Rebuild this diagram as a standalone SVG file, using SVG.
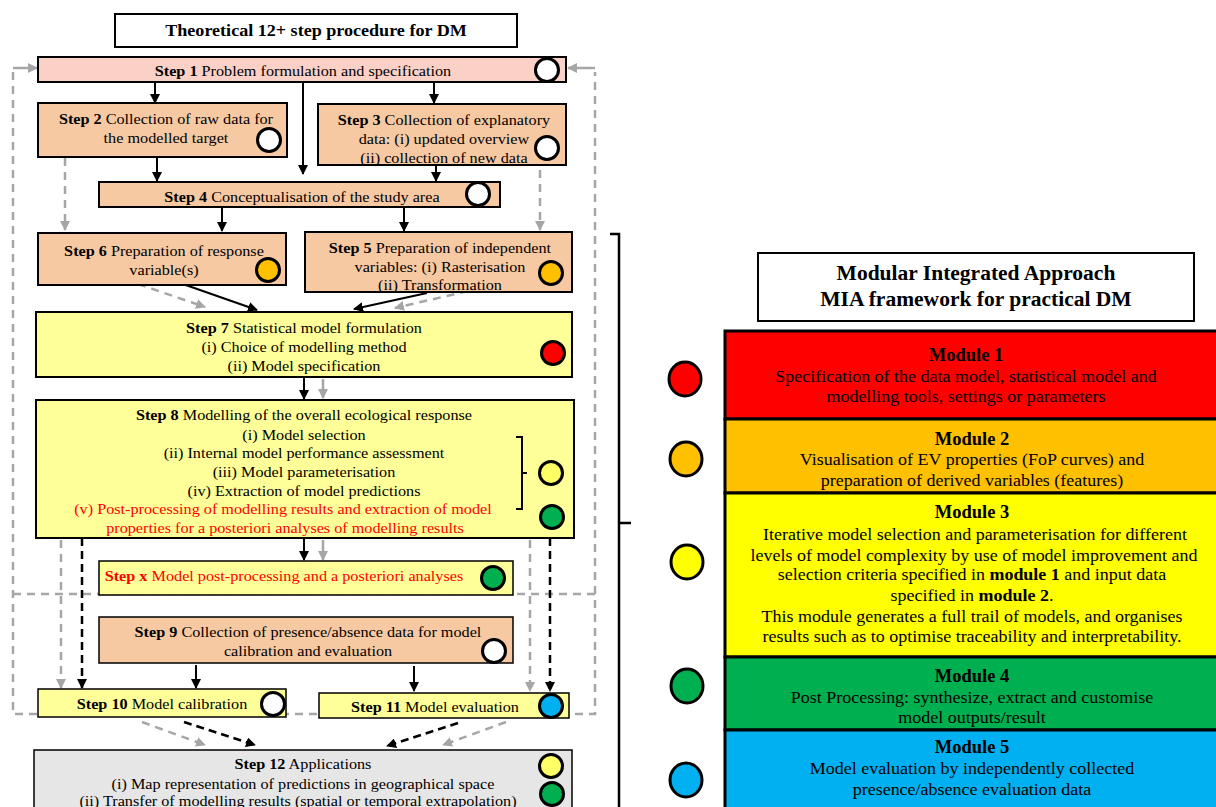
<svg xmlns="http://www.w3.org/2000/svg" width="1216" height="807" viewBox="0 0 1216 807">
<defs>
<marker id="ab" markerWidth="10" markerHeight="10" refX="9" refY="5" orient="auto" markerUnits="userSpaceOnUse"><path d="M0,0 L10,5 L0,10 z" fill="#000"/></marker>
<marker id="ag" markerWidth="10" markerHeight="10" refX="9" refY="5" orient="auto" markerUnits="userSpaceOnUse"><path d="M0,0 L10,5 L0,10 z" fill="#a6a6a6"/></marker>
<style>
text{font-family:"Liberation Serif","Times New Roman",serif;fill:#000;transform-box:fill-box;transform-origin:center}
.s{font-size:15px;text-anchor:middle;transform:scaleX(1.08)}
.b{font-weight:bold}
.r{fill:#ff0000}
.box{stroke:#000;stroke-width:2}
.thin{stroke:#000;stroke-width:1.5}
.c{stroke:#000;stroke-width:3}
.bl{stroke:#000;stroke-width:2;fill:none;marker-end:url(#ab)}
.bd{stroke:#000;stroke-width:2.5;fill:none;stroke-dasharray:8 5;marker-end:url(#ab)}
.gd{stroke:#a6a6a6;stroke-width:2.5;fill:none;stroke-dasharray:8 6}
.ga{stroke:#a6a6a6;stroke-width:2.5;fill:none;stroke-dasharray:8 6;marker-end:url(#ag)}
.gs{stroke:#a6a6a6;stroke-width:2.5;fill:none;marker-end:url(#ag)}
.m{font-size:16.5px;text-anchor:middle;transform:scaleX(1.09)}
.mh{font-size:18.5px;font-weight:bold;text-anchor:middle}
.mod{stroke:#000;stroke-width:3}
.t1{font-size:16px;font-weight:bold;text-anchor:middle;transform:scaleX(1.13)}
.t2{font-size:20.5px;font-weight:bold;text-anchor:middle;transform:scaleX(1.05)}
</style>
</defs>
<rect width="1216" height="807" fill="#fff"/>

<g id="connectors">
<path class="gd" d="M13,72 V714 H595 V72"/>
<path class="gd" d="M13,594 H595"/>
<path class="gs" d="M13,68 H37"/>
<path class="gs" d="M595,68 H568"/>
<path class="bl" d="M155,82 V103"/>
<path class="bl" d="M434,82 V103"/>
<path class="bl" d="M303,82 V174"/>
<path class="bl" d="M157,158 V181"/>
<path class="bl" d="M436,152 V181"/>
<path class="bl" d="M222,207 V231"/>
<path class="bl" d="M404,207 V231"/>
<path class="ga" d="M65,158 V230"/>
<path class="ga" d="M540,170 V230"/>
<path class="ga" d="M138,284 L205,307"/>
<path class="bl" d="M180,283 L257,310"/>
<path class="bl" d="M427,293 L354,309"/>
<path class="ga" d="M468,291 L395,308"/>
<path class="bl" d="M304,377 V399"/>
<path class="gs" d="M323,379 V398"/>
<path class="bl" d="M304,538 V560"/>
<path class="gs" d="M323,540 V560"/>
<path class="bd" d="M82,538 V688"/>
<path class="ga" d="M61,540 V688"/>
<path class="bd" d="M550,538 V691"/>
<path class="ga" d="M530,540 V691"/>
<path class="bl" d="M196,665 V688"/>
<path class="bl" d="M414,666 V691"/>
<path class="ga" d="M142,722 L205,745"/>
<path class="bd" d="M184,722 L255,745"/>
<path class="bd" d="M458,723 L387,746"/>
<path class="ga" d="M506,722 L443,745"/>
<path d="M610,234 H619 V807" stroke="#000" stroke-width="2.5" fill="none"/>
<path d="M619,523 H631" stroke="#000" stroke-width="2.5"/>
</g>

<g id="title">
<rect x="115" y="14" width="402" height="33" fill="#fff" class="box"/>
<text x="316" y="36" class="t1">Theoretical 12+ step procedure for DM</text>
</g>

<g id="step1">
<rect x="38" y="57" width="528" height="25" fill="#fbd0c6" class="box"/>
<text x="303" y="76" class="s"><tspan class="b">Step 1</tspan> Problem formulation and specification</text>
<circle cx="547" cy="70" r="11.5" fill="#fff" class="c"/>
</g>

<g id="step2">
<rect x="38" y="103" width="249" height="54" fill="#f6c9a3" class="box"/>
<text x="166" y="124" class="s"><tspan class="b">Step 2</tspan> Collection of raw data for</text>
<text x="166" y="143" class="s">the modelled target</text>
<circle cx="269" cy="140" r="11.5" fill="#fff" class="c"/>
</g>

<g id="step3">
<rect x="318" y="104" width="248" height="61" fill="#f6c9a3" class="box"/>
<text x="444" y="125" class="s"><tspan class="b">Step 3</tspan> Collection of explanatory</text>
<text x="444" y="144" class="s">data: (i) updated overview</text>
<text x="444" y="163" class="s">(ii) collection of new data</text>
<circle cx="547" cy="148" r="11.5" fill="#fff" class="c"/>
</g>

<g id="step4">
<rect x="99" y="182" width="401" height="25" fill="#f6c9a3" class="box"/>
<text x="302" y="202" class="s"><tspan class="b">Step 4</tspan> Conceptualisation of the study area</text>
<circle cx="478" cy="194" r="11.5" fill="#fff" class="c"/>
</g>

<g id="step6">
<rect x="38" y="233" width="248" height="52" fill="#f6c9a3" class="box"/>
<text x="164" y="256" class="s"><tspan class="b">Step 6</tspan> Preparation of response</text>
<text x="164" y="275" class="s">variable(s)</text>
<circle cx="268" cy="270" r="11.5" fill="#ffc000" class="c"/>
</g>

<g id="step5">
<rect x="305" y="232" width="267" height="60" fill="#f6c9a3" class="box"/>
<text x="440" y="253" class="s"><tspan class="b">Step 5</tspan> Preparation of independent</text>
<text x="440" y="272" class="s">variables: (i) Rasterisation</text>
<text x="440" y="290" class="s">(ii) Transformation</text>
<circle cx="551" cy="273" r="11.5" fill="#ffc000" class="c"/>
</g>

<g id="step7">
<rect x="36" y="312" width="536" height="65" fill="#ffff99" class="box"/>
<text x="304" y="333" class="s"><tspan class="b">Step 7</tspan> Statistical model formulation</text>
<text x="304" y="352" class="s">(i) Choice of modelling method</text>
<text x="304" y="371" class="s">(ii) Model specification</text>
<circle cx="553" cy="353" r="11.5" fill="#ff0000" class="c"/>
</g>

<g id="step8">
<rect x="36" y="400" width="538" height="138" fill="#ffff99" class="box"/>
<text x="304" y="420" class="s"><tspan class="b">Step 8</tspan> Modelling of the overall ecological response</text>
<text x="304" y="440" class="s">(i) Model selection</text>
<text x="304" y="458" class="s">(ii) Internal model performance assessment</text>
<text x="304" y="477" class="s">(iii) Model parameterisation</text>
<text x="304" y="496" class="s">(iv) Extraction of model predictions</text>
<text x="283" y="514" class="s r">(v) Post-processing of modelling results and extraction of model</text>
<text x="285" y="533" class="s r">properties for a posteriori analyses of modelling results</text>
<path d="M516,437 H522 V509 H516 M522,473 H527" stroke="#000" stroke-width="2" fill="none"/>
<circle cx="551" cy="473" r="11.5" fill="#ffff66" class="c"/>
<circle cx="552" cy="517" r="11.5" fill="#00b050" class="c"/>
</g>

<g id="stepx">
<rect x="99" y="561" width="414" height="34" fill="#ffff99" class="thin"/>
<text x="284" y="581" class="s r"><tspan class="b r">Step x</tspan> Model post-processing and a posteriori analyses</text>
<circle cx="493" cy="578" r="11.5" fill="#00b050" class="c"/>
</g>

<g id="step9">
<rect x="99" y="617" width="414" height="46" fill="#f6c9a3" class="thin"/>
<text x="308" y="637" class="s"><tspan class="b">Step 9</tspan> Collection of presence/absence data for model</text>
<text x="308" y="656" class="s">calibration and evaluation</text>
<circle cx="494" cy="651" r="11.5" fill="#fff" class="c"/>
</g>

<g id="step10">
<rect x="38" y="689" width="248" height="28" fill="#ffff99" class="thin"/>
<text x="162" y="709" class="s"><tspan class="b">Step 10</tspan> Model calibration</text>
<circle cx="273" cy="704" r="11.5" fill="#fff" class="c"/>
</g>

<g id="step11">
<rect x="319" y="693" width="250" height="25" fill="#ffff99" class="thin"/>
<text x="435" y="712" class="s"><tspan class="b">Step 11</tspan> Model evaluation</text>
<circle cx="551" cy="706" r="11.5" fill="#00b0f0" class="c"/>
</g>

<g id="step12">
<rect x="34" y="750" width="538" height="70" fill="#e7e6e6" class="thin"/>
<text x="303" y="769" class="s"><tspan class="b">Step 12</tspan> Applications</text>
<text x="303" y="789" class="s">(i) Map representation of predictions in geographical space</text>
<text x="298" y="806" class="s">(ii) Transfer of modelling results (spatial or temporal extrapolation)</text>
<circle cx="551" cy="766" r="11.5" fill="#ffff66" class="c"/>
<circle cx="552" cy="794" r="11.5" fill="#00b050" class="c"/>
</g>

<g id="mia-title">
<rect x="758" y="253" width="436" height="68" fill="#fff" class="box"/>
<text x="976" y="280" class="t2">Modular Integrated Approach</text>
<text x="976" y="306" class="t2">MIA framework for practical DM</text>
</g>

<g id="module1">
<rect x="725" y="331" width="500" height="88" fill="#ff0000" class="mod"/>
<text x="966" y="361" class="mh">Module 1</text>
<text x="966" y="382" class="m">Specification of the data model, statistical model and</text>
<text x="966" y="402" class="m">modelling tools, settings or parameters</text>
<ellipse cx="685" cy="379" rx="16" ry="17" fill="#ff0000" class="c"/>
</g>

<g id="module2">
<rect x="725" y="419" width="500" height="74" fill="#ffc000" class="mod"/>
<text x="972" y="445" class="mh">Module 2</text>
<text x="972" y="465" class="m">Visualisation of EV properties (FoP curves) and</text>
<text x="972" y="486" class="m">preparation of derived variables (features)</text>
<ellipse cx="686" cy="459" rx="16" ry="17" fill="#ffc000" class="c"/>
</g>

<g id="module3">
<rect x="725" y="493" width="500" height="164" fill="#ffff00" class="mod"/>
<text x="972" y="518" class="mh">Module 3</text>
<text x="975" y="540" class="m">Iterative model selection and parameterisation for different</text>
<text x="974" y="561" class="m">levels of model complexity by use of model improvement and</text>
<text x="972" y="580" class="m">selection criteria specified in <tspan font-weight="bold">module 1</tspan> and input data</text>
<text x="972" y="601" class="m">specified in <tspan font-weight="bold">module 2</tspan>.</text>
<text x="972" y="622" class="m">This module generates a full trail of models, and organises</text>
<text x="972" y="642" class="m">results such as to optimise traceability and interpretability.</text>
<ellipse cx="687" cy="562" rx="16" ry="17" fill="#ffff00" class="c"/>
</g>

<g id="module4">
<rect x="725" y="657" width="500" height="73" fill="#00b050" class="mod"/>
<text x="972" y="682" class="mh">Module 4</text>
<text x="972" y="703" class="m">Post Processing: synthesize, extract and customise</text>
<text x="972" y="723" class="m">model outputs/result</text>
<ellipse cx="687" cy="686" rx="16" ry="17" fill="#00b050" class="c"/>
</g>

<g id="module5">
<rect x="725" y="730" width="500" height="90" fill="#00b0f0" class="mod"/>
<text x="972" y="753" class="mh">Module 5</text>
<text x="972" y="774" class="m">Model evaluation by independently collected</text>
<text x="972" y="795" class="m">presence/absence evaluation data</text>
<ellipse cx="686" cy="780" rx="16" ry="17" fill="#00b0f0" class="c"/>
</g>
</svg>
